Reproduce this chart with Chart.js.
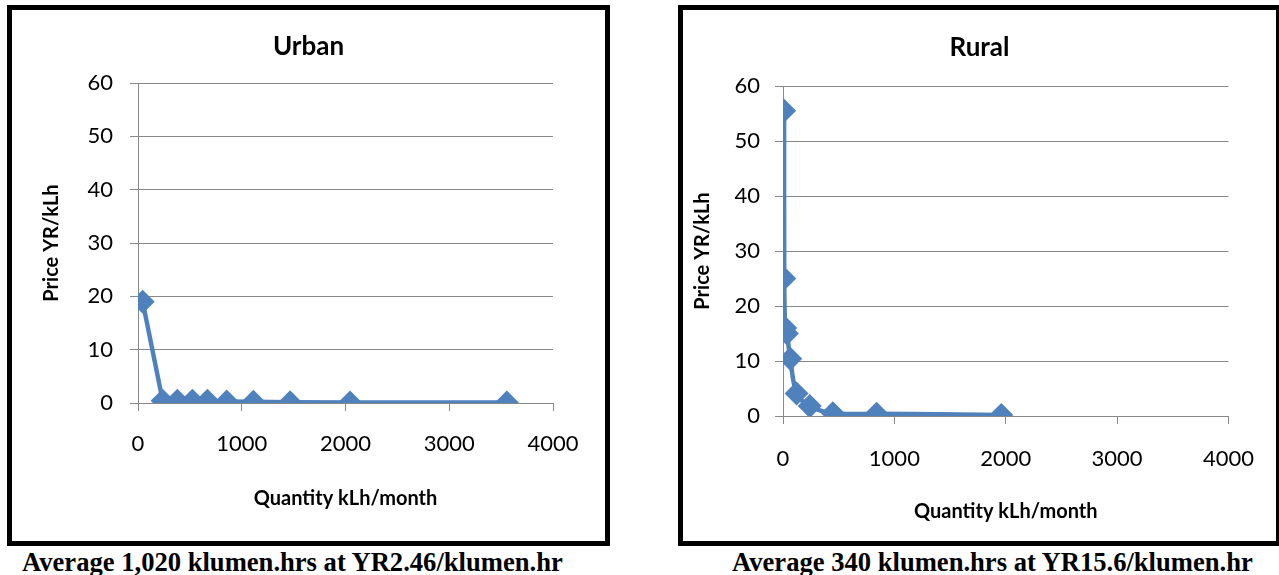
<!DOCTYPE html>
<html>
<head>
<meta charset="utf-8">
<script src="https://cdn.jsdelivr.net/npm/chart.js@4/dist/chart.umd.min.js"></script>
<style>
  body { margin: 0; background: #fff; width: 1279px; height: 575px; position: relative; overflow: hidden; }
  .box { position: absolute; border: 5px solid #000; box-sizing: border-box; background: #fff; }
  .box canvas { display: block; }
  .caption { position: absolute; font-family: "Liberation Serif", serif; font-weight: bold; font-size: 26.6px; line-height: 26.6px; white-space: nowrap; color: #000; }
</style>
</head>
<body>

<div class="box" style="left:7px; top:5px; width:603px; height:541px;"><canvas id="urbanChart" width="593" height="531"></canvas></div>
<div class="box" style="left:678px; top:5px; width:603px; height:541px;"><canvas id="ruralChart" width="593" height="531"></canvas></div>

<div class="caption" style="left:22px; top:549px;">Average 1,020 klumen.hrs at YR2.46/klumen.hr</div>
<div class="caption" style="left:732px; top:549px;">Average 340 klumen.hrs at YR15.6/klumen.hr</div>

<script>
// Urban demand curve
let urbanQty = [45, 238, 379, 524, 669, 855, 1112, 1466, 2044, 3555];
let urbanPrice = [19.0, 0.4, 0.4, 0.4, 0.4, 0.3, 0.25, 0.15, 0.1, 0.1];

// Rural demand curve
let ruralQty = [10, 11, 20, 35, 65, 122, 240, 448, 840, 1960];
let ruralPrice = [55.5, 25.0, 16.0, 15.0, 10.4, 4.1, 1.8, 0.5, 0.4, 0.2];

// Axis ticks
let xTicks = [0, 1000, 2000, 3000, 4000];
let yTicks = [0, 10, 20, 30, 40, 50, 60];

let lineColor = '#4F81BD';
let gridColor = '#888888';
let chartFont = 'Lato';

function toPoints(xs, ys){
    let pts = new Array();
    for(let i=0; i<xs.length; i++){
        pts.push({ x: xs[i], y: ys[i] });
    }
    return pts;
}

function makeChart(canvasId, titleText, xs, ys, cfg){
    let ctx = document.getElementById(canvasId);
    return new Chart(ctx, {
        type: 'scatter',
        data: {
          datasets: [
            {
              label: titleText,
              data: toPoints(xs, ys),
              showLine: true,
              borderColor: lineColor,
              backgroundColor: lineColor,
              borderWidth: 4.5,
              tension: cfg.tension,
              pointStyle: 'rectRot',
              pointRadius: 12,
              pointHoverRadius: 12,
              pointBorderWidth: 0
            }
          ]
        },
        options: {
          responsive: false,
          animation: false,
          layout: { padding: 0 },
          plugins: {
            legend: { display: false },
            tooltip: { enabled: false },
            title: {
              display: true,
              text: titleText,
              color: '#000',
              font: { family: chartFont, size: 26, weight: 'bold' },
              padding: { top: cfg.titleTop, bottom: cfg.titleBottom }
            }
          },
          scales: {
            x: {
              type: 'linear',
              min: 0,
              max: 4000,
              afterBuildTicks: function(scale){ scale.ticks = xTicks.map(function(v){ return { value: v }; }); },
              afterFit: function(scale){ scale.height = cfg.xHeight; },
              ticks: {
                color: '#000',
                padding: cfg.xTickPad,
                font: { family: chartFont, size: 22 },
                callback: function(value){ return String(value); }
              },
              grid: { drawOnChartArea: false, drawTicks: true, tickLength: 8, color: gridColor },
              border: { display: true, color: gridColor },
              title: {
                display: true,
                text: 'Quantity kLh/month',
                color: '#000',
                font: { family: chartFont, size: 20, weight: 'bold' },
                padding: { top: 0, bottom: cfg.xTitleBottom }
              }
            },
            y: {
              type: 'linear',
              min: 0,
              max: 60,
              afterBuildTicks: function(scale){ scale.ticks = yTicks.map(function(v){ return { value: v }; }); },
              afterFit: function(scale){ scale.width = cfg.yWidth; },
              ticks: {
                color: '#000',
                padding: cfg.yTickPad,
                font: { family: chartFont, size: 22 },
                callback: function(value){ return String(value); }
              },
              grid: { drawOnChartArea: true, drawTicks: true, tickLength: 8, color: gridColor },
              border: { display: true, color: gridColor },
              title: {
                display: true,
                text: 'Price YR/kLh',
                color: '#000',
                font: { family: chartFont, size: 20, weight: 'bold' },
                padding: { top: cfg.yTitleTop, bottom: 0 }
              }
            },
            // empty right-hand spacer so the title stays centred on the whole box
            spacer: {
              type: 'linear',
              position: 'right',
              afterFit: function(scale){ scale.width = cfg.padRight; },
              ticks: { display: false },
              grid: { display: false },
              border: { display: false }
            }
          }
        }
    });
}

makeChart('urbanChart', 'Urban', urbanQty, urbanPrice, {
    tension: 0,
    padRight: 52,
    titleTop: 21.4, titleBottom: 20.4,
    xHeight: 138, xTickPad: 20, xTitleBottom: 30,
    yWidth: 126, yTickPad: 17, yTitleTop: 27.7
});

makeChart('ruralChart', 'Rural', ruralQty, ruralPrice, {
    tension: 0.3,
    padRight: 41,
    titleTop: 22.4, titleBottom: 22.4,
    xHeight: 125, xTickPad: 22, xTitleBottom: 17,
    yWidth: 100, yTickPad: 15, yTitleTop: 7.5
});
</script>
</body>
</html>
